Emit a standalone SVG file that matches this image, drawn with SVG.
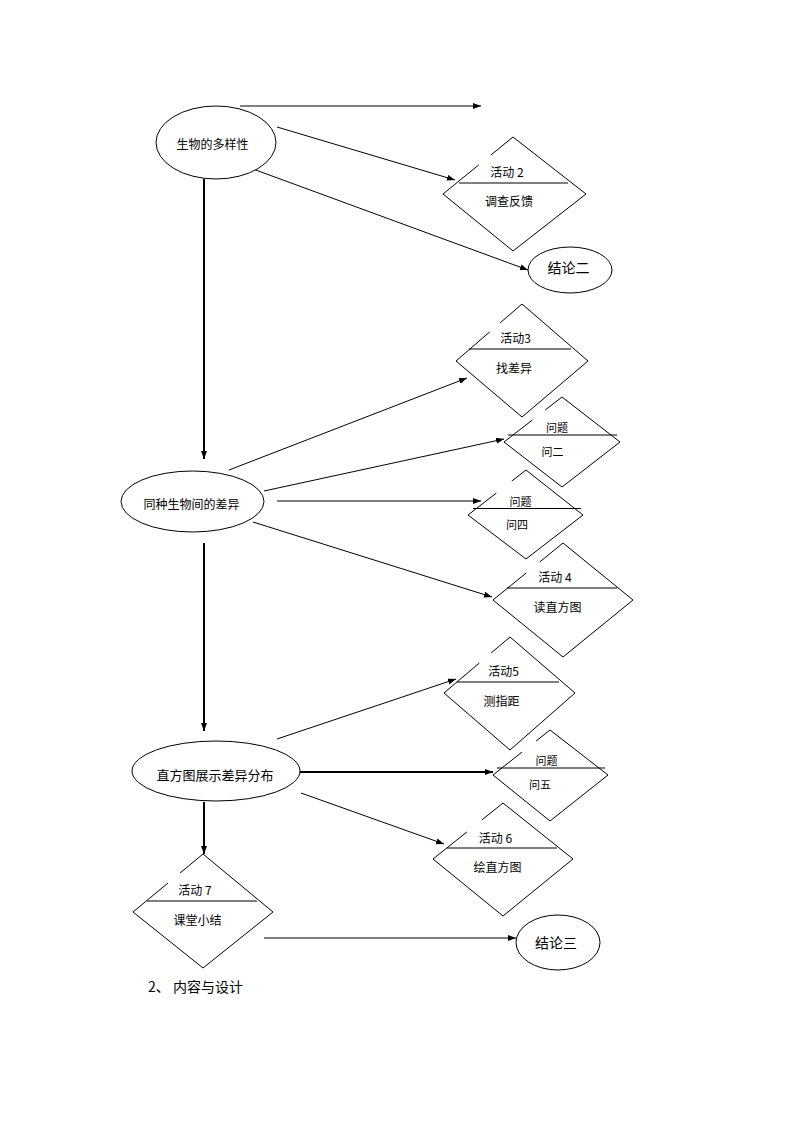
<svg xmlns="http://www.w3.org/2000/svg" width="794" height="1123" viewBox="0 0 794 1123">
<style>
.bg{fill:#fff}
.sh{fill:none;stroke:#000;stroke-width:1}
.ell{fill:#fff;stroke:#000;stroke-width:1}
.hl{stroke:#000;stroke-width:1.2}
.c{fill:none;stroke:#000;stroke-width:1;marker-end:url(#ah)}
.c2{fill:none;stroke:#000;stroke-width:2;marker-end:url(#ah)}
text{font-family:"Noto Sans CJK SC","Noto Sans",sans-serif;font-size:12px;fill:#000;text-anchor:middle}
.s{font-size:11px}
.b{font-size:14px}
.m{font-size:13px}
</style>
<defs>
<marker id="ah" markerUnits="userSpaceOnUse" markerWidth="9" markerHeight="7" refX="8" refY="3" orient="auto">
<path d="M0,0 L8,3 L0,6 z" fill="#000"/>
</marker>
</defs>
<rect class="bg" width="794" height="1123"/>
<g id="connectors">
<line class="c" x1="240" y1="106" x2="481" y2="106"/>
<line class="c" x1="277" y1="127" x2="455" y2="180"/>
<line class="c" x1="253" y1="169" x2="528" y2="270"/>
<line class="c2" x1="204" y1="179" x2="204" y2="459"/>
<line class="c" x1="229" y1="470" x2="467" y2="378"/>
<line class="c" x1="264" y1="491" x2="504" y2="439"/>
<line class="c" x1="277" y1="501" x2="481" y2="501"/>
<line class="c" x1="253" y1="522" x2="492" y2="597"/>
<line class="c2" x1="204" y1="543" x2="204" y2="731"/>
<line class="c" x1="277" y1="739" x2="456" y2="679"/>
<line class="c2" x1="300" y1="772" x2="493" y2="772"/>
<line class="c" x1="301" y1="793" x2="444" y2="844"/>
<line class="c2" x1="204" y1="802" x2="204" y2="854"/>
<line class="c" x1="264" y1="938" x2="516" y2="938"/>
</g>
<g id="n1">
<ellipse class="ell" cx="216" cy="142.5" rx="60" ry="36.5"/>
<text x="212.5" y="149">生物的多样性</text>
</g>
<g id="n_jl2">
<ellipse class="ell" cx="570" cy="270" rx="42" ry="23"/>
<text class="b" x="568.5" y="273">结论二</text>
</g>
<g id="n2">
<ellipse class="ell" cx="192.5" cy="501.5" rx="71.5" ry="30.5"/>
<text x="191.5" y="509">同种生物间的差异</text>
</g>
<g id="n3">
<ellipse class="ell" cx="216" cy="771" rx="84" ry="30"/>
<text class="m" x="215" y="780">直方图展示差异分布</text>
</g>
<g id="n_jl3">
<ellipse class="ell" cx="558" cy="942.5" rx="42" ry="27.5"/>
<text class="b" x="556" y="948">结论三</text>
</g>
<g id="d2">
<path class="sh" d="M490.9,155 L513,137 L586,194 L513,251 L443,194 L478.6,165"/>
<line class="hl" x1="459" y1="183" x2="568" y2="183"/>
<text x="507" y="177">活动 2</text>
<text x="509" y="206">调查反馈</text>
</g>
<g id="d3">
<path class="sh" d="M500,323 L522,304 L588,361 L522,417 L456,361 L489.6,332"/>
<line class="hl" x1="469" y1="349" x2="571" y2="349"/>
<text x="515.5" y="343">活动3</text>
<text x="514" y="373">找差异</text>
</g>
<g id="q2">
<path class="sh" d="M545.2,410 L562,397 L620,442 L562,487 L504,442 L532.4,420"/>
<line class="hl" x1="508" y1="435" x2="617" y2="435"/>
<text class="s" x="557" y="432">问题</text>
<text class="s" x="552.5" y="456">问二</text>
</g>
<g id="q4">
<path class="sh" d="M511.8,481 L526,470 L583,515 L526,559 L468,515 L496.4,493"/>
<line class="hl" x1="473" y1="508.5" x2="581" y2="508.5"/>
<text class="s" x="520.5" y="506">问题</text>
<text class="s" x="517" y="529">问四</text>
</g>
<g id="d4">
<path class="sh" d="M539.7,562 L563,543 L633,600 L563,657 L493,600 L526.2,573"/>
<line class="hl" x1="507" y1="588" x2="617" y2="588"/>
<text x="555" y="582">活动 4</text>
<text x="557.5" y="612">读直方图</text>
</g>
<g id="d5">
<path class="sh" d="M491.1,653 L510,637 L575,693 L510,750 L444,693 L479.3,663"/>
<line class="hl" x1="457" y1="682" x2="559" y2="682"/>
<text x="503.5" y="676">活动5</text>
<text x="501.5" y="706">测指距</text>
</g>
<g id="q5">
<path class="sh" d="M536.1,741 L550,730 L608,775 L550,821 L493,775 L522.1,752"/>
<line class="hl" x1="497" y1="768" x2="605" y2="768"/>
<text class="s" x="546.5" y="765">问题</text>
<text class="s" x="540" y="789">问五</text>
</g>
<g id="d6">
<path class="sh" d="M481.8,820 L503,803 L573,859 L503,916 L433,859 L466.8,832"/>
<line class="hl" x1="447" y1="848" x2="557" y2="848"/>
<text x="495.5" y="843">活动 6</text>
<text x="497.5" y="872">绘直方图</text>
</g>
<g id="d7">
<path class="sh" d="M180.1,873 L203,854 L273,912 L203,968 L133,912 L168,883"/>
<line class="hl" x1="147" y1="901" x2="257" y2="901"/>
<text x="195" y="895">活动 7</text>
<text x="197.5" y="925">课堂小结</text>
</g>
<text class="b" x="148" y="992" style="text-anchor:start">2、 内容与设计</text>
</svg>
